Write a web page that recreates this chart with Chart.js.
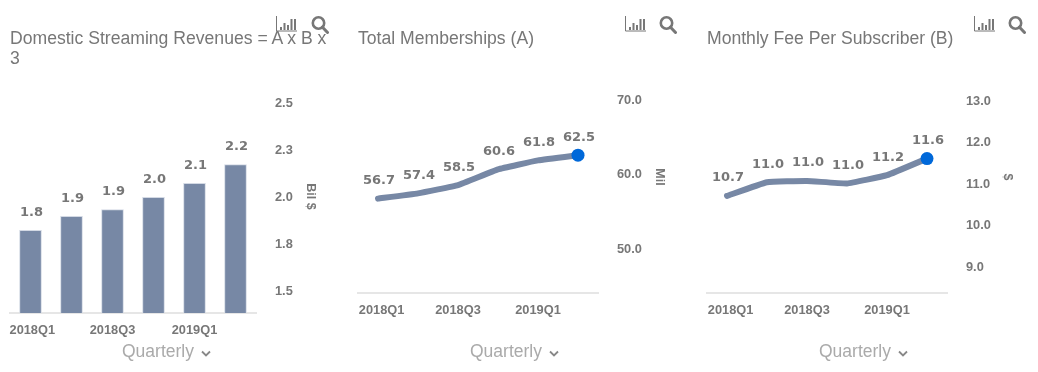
<!DOCTYPE html>
<html>
<head>
<meta charset="utf-8">
<script src="https://cdn.jsdelivr.net/npm/chart.js@4"></script>
<style>
  html, body { margin: 0; padding: 0; background: #fff; }
  body { width: 1038px; height: 372px; overflow: hidden; position: relative; font-family: "Liberation Sans", Arial, sans-serif; }
  .panel { position: absolute; top: 0; width: 340px; height: 372px; }
  .panel canvas { position: absolute; left: 0; top: 0; }
  .panel__title { position: absolute; left: 10px; top: 28px; width: 328px; font-size: 17.6px; line-height: 20px; color: #777; }
  .panel__icon { position: absolute; top: 15px; }
  .panel__period { position: absolute; left: 122px; top: 341px; font-size: 17.5px; line-height: 20px; color: #aaa; white-space: nowrap; }
  .panel__period svg { margin-left: 2px; }
</style>
</head>
<body>
<div class="panel" style="left:0"><canvas id="revenueChart" width="340" height="372"></canvas></div>
<div class="panel" style="left:348px"><canvas id="memberChart" width="340" height="372"></canvas></div>
<div class="panel" style="left:697px"><canvas id="feeChart" width="340" height="372"></canvas></div>

<script>
// ─── Data ───
const quarters = ['2018Q1', '2018Q2', '2018Q3', '2018Q4', '2019Q1', '2019Q2'];

const revenueValues = [1.82, 1.894, 1.93, 1.995, 2.07, 2.17];
const revenueLabels = ['1.8', '1.9', '1.9', '2.0', '2.1', '2.2'];
const revenueTicks = [1.5, 1.75, 2.0, 2.25, 2.5];

const memberValues = [56.7, 57.4, 58.5, 60.6, 61.8, 62.5];
const memberLabels = ['56.7', '57.4', '58.5', '60.6', '61.8', '62.5'];
const memberTicks = [50, 60, 70];

const feeValues = [10.69, 11.02, 11.05, 10.99, 11.19, 11.59];
const feeLabels = ['10.7', '11.0', '11.0', '11.0', '11.2', '11.6'];
const feeTicks = [9, 10, 11, 12, 13];

const SLATE = '#7788a5';
const BLUE = '#0068d9';
const TEXT = '#777777';

// values above the marks, the chart has no datalabels plugin here
const valueLabelPlugin = {
  id: 'valueLabels',
  afterDatasetsDraw(chart, args, opts) {
    const points = chart.getDatasetMeta(0).data;
    const ctx = chart.ctx;
    ctx.save();
    ctx.font = 'bold 13px "DejaVu Sans"';
    ctx.fillStyle = TEXT;
    ctx.textAlign = 'center';
    ctx.textBaseline = 'middle';
    points.forEach((p, i) => ctx.fillText(opts.labels[i], p.x + 1, p.y - 18));
    ctx.restore();
  }
};

function buildChart(id, cfg) {
  const isBar = cfg.type === 'bar';
  const dataset = isBar
    ? { data: cfg.values, backgroundColor: SLATE, borderColor: '#d3d9e4', borderWidth: 1, barThickness: 22 }
    : {
        data: cfg.values,
        borderColor: SLATE,
        borderWidth: 6,
        borderCapStyle: 'round',
        borderJoinStyle: 'round',
        tension: 0.1,
        pointRadius: cfg.values.map((v, i) => (i === cfg.values.length - 1 ? 6.5 : 0)),
        pointBackgroundColor: BLUE,
        pointBorderWidth: 0
      };

  return new Chart(document.getElementById(id), {
    type: cfg.type,
    data: { labels: quarters, datasets: [dataset] },
    plugins: [valueLabelPlugin],
    options: {
      responsive: false,
      animation: false,
      layout: { padding: { left: 10, top: cfg.top, right: 0, bottom: 0 } },
      plugins: {
        legend: { display: false },
        tooltip: { enabled: false },
        valueLabels: { labels: cfg.labels }
      },
      scales: {
        x: {
          offset: true,
          grid: { display: false, drawTicks: false, offset: true },
          border: { color: '#e6e6e6', width: 2 },
          afterFit: (axis) => {
            axis.height = 372 - cfg.bottom;
            axis.paddingLeft = 0;
            axis.paddingRight = 0;
          },
          ticks: {
            autoSkip: false,
            maxRotation: 0,
            padding: 10,
            color: TEXT,
            font: { family: 'Liberation Sans', size: 12.8, weight: 'bold' },
            // first label sits flush with the axis start in the original, nudge it with nbsp
            callback(v, i) {
              if (i === 0) return cfg.firstPad + quarters[0];
              return i % 2 ? '' : quarters[i];
            }
          }
        },
        y: {
          position: 'right',
          min: cfg.min,
          max: cfg.max,
          grid: { display: false, drawTicks: false },
          border: { display: false },
          afterBuildTicks: (axis) => { axis.ticks = cfg.ticks.map((value) => ({ value })); },
          afterFit: (axis) => {
            axis.width = cfg.axisWidth;
            axis.paddingTop = 0;
            axis.paddingBottom = 0;
          },
          title: {
            display: true,
            text: cfg.unit,
            color: TEXT,
            padding: { top: cfg.unitPad, bottom: 0 },
            font: { family: 'Liberation Sans', size: 12.5, weight: 'bold' }
          },
          ticks: {
            padding: cfg.tickPad,
            labelOffset: 1,
            color: TEXT,
            font: { family: 'Liberation Sans', size: 12.8, weight: 'bold' },
            callback: (v) => Number(v).toFixed(1)
          }
        }
      }
    }
  });
}

buildChart('revenueChart', {
  type: 'bar', values: revenueValues, labels: revenueLabels, ticks: revenueTicks, firstPad: '\u00a0',
  min: 1.38, max: 2.62, top: 80, bottom: 313, axisWidth: 84, tickPad: 19, unit: 'Bil $', unitPad: 22
});
buildChart('memberChart', {
  type: 'line', values: memberValues, labels: memberLabels, ticks: memberTicks, firstPad: '\u00a0\u00a0',
  min: 44.1, max: 75.07, top: 61, bottom: 293, axisWidth: 90, tickPad: 19, unit: 'Mil', unitPad: 21
});
buildChart('feeChart', {
  type: 'line', values: feeValues, labels: feeLabels, ticks: feeTicks, firstPad: '\u00a0\u00a0',
  min: 8.35, max: 13.94, top: 61, bottom: 293, axisWidth: 90, tickPad: 19, unit: '$', unitPad: 22
});

// ─── Panel furniture: titles, icons, period selector ───
const panelTitles = ['Domestic Streaming Revenues = A x B x 3', 'Total Memberships (A)', 'Monthly Fee Per Subscriber (B)'];
const barIconLeft = [276, 277, 277];

const barIcon = `<svg width="21" height="16" viewBox="0 0 21 16"><path d="M.5 0V15H21" fill="none" stroke="#777" stroke-width="1"/><path d="M4 11h2v3H4zM7.5 7h2v7h-2zM11 9h2v5h-2zM14.5 3h2v11h-2zM18 3h2v11h-2z" fill="#777"/></svg>`;
const searchIcon = `<svg width="18" height="19" viewBox="0 0 18 19"><circle cx="7.5" cy="8" r="5.7" fill="none" stroke="#777" stroke-width="2.6"/><path d="M11.5 12.2L16.5 17.5" stroke="#777" stroke-width="3" stroke-linecap="round"/></svg>`;
const chevron = `<svg width="10" height="7" viewBox="0 0 10 7"><path d="M1 1.5L5 5.5L9 1.5" fill="none" stroke="#888" stroke-width="1.8"/></svg>`;

document.querySelectorAll('.panel').forEach((panel, i) => {
  panel.insertAdjacentHTML('beforeend', `
    <div class="panel__title">${panelTitles[i]}</div>
    <div class="panel__icon" style="left:${barIconLeft[i]}px;top:16px">${barIcon}</div>
    <div class="panel__icon" style="left:311px">${searchIcon}</div>
    <div class="panel__period">Quarterly ${chevron}</div>`);
});
</script>
</body>
</html>
